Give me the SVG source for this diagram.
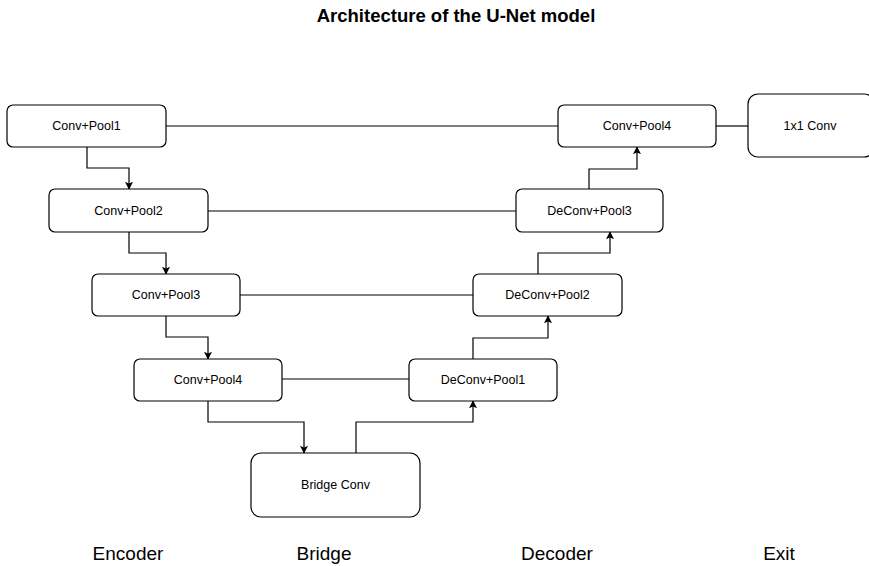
<svg xmlns="http://www.w3.org/2000/svg" width="869" height="566" viewBox="0 0 869 566">
<style>
.box{fill:#fff;stroke:#000;stroke-width:1.2}
.lbl{font-family:"Liberation Sans",Arial,sans-serif;font-size:12.5px;fill:#000;text-anchor:middle;dominant-baseline:central}
.cap{font-family:"Liberation Sans",Arial,sans-serif;font-size:19px;fill:#000;text-anchor:middle}
.ttl{font-family:"Liberation Sans",Arial,sans-serif;font-size:18.5px;font-weight:bold;fill:#000;text-anchor:middle}
.ln{fill:none;stroke:#000;stroke-width:1.2}
</style>
<defs>
<marker id="arr" viewBox="0 0 10 10" refX="9" refY="5" markerWidth="8" markerHeight="8" markerUnits="userSpaceOnUse" orient="auto">
<path d="M0,0 L10,5 L0,10 L2,5 Z" fill="#000"/>
</marker>
</defs>
<rect width="869" height="566" fill="#fff"/>
<text class="ttl" x="456" y="22">Architecture of the U-Net model</text>
<g id="connectors">
<path class="ln" d="M166,126 H558"/>
<path class="ln" d="M208,211 H516"/>
<path class="ln" d="M240,295 H473"/>
<path class="ln" d="M282,379 H409"/>
<path class="ln" d="M716,126 H748"/>
<path class="ln" marker-end="url(#arr)" d="M87,147 V168 H129 V189"/>
<path class="ln" marker-end="url(#arr)" d="M129,232 V253 H166 V274"/>
<path class="ln" marker-end="url(#arr)" d="M166,316 V337 H208 V359"/>
<path class="ln" marker-end="url(#arr)" d="M208,401 V422 H304 V453"/>
<path class="ln" marker-end="url(#arr)" d="M356,453 V422 H473 V401"/>
<path class="ln" marker-end="url(#arr)" d="M473,359 V338 H548 V316"/>
<path class="ln" marker-end="url(#arr)" d="M538,274 V253 H610 V232"/>
<path class="ln" marker-end="url(#arr)" d="M589,189 V169 H637 V147"/>
</g>
<g id="enc1"><rect class="box" x="7" y="105" width="159" height="42" rx="6"/><text class="lbl" x="86.5" y="126">Conv+Pool1</text></g>
<g id="enc2"><rect class="box" x="49" y="189" width="159" height="43" rx="6"/><text class="lbl" x="128.5" y="211">Conv+Pool2</text></g>
<g id="enc3"><rect class="box" x="92" y="274" width="148" height="42" rx="6"/><text class="lbl" x="166" y="295">Conv+Pool3</text></g>
<g id="enc4"><rect class="box" x="134" y="359" width="148" height="42" rx="6"/><text class="lbl" x="208" y="380">Conv+Pool4</text></g>
<g id="bridge"><rect class="box" x="251" y="453" width="169" height="64" rx="10"/><text class="lbl" x="335.5" y="485">Bridge Conv</text></g>
<g id="dec1"><rect class="box" x="409" y="359" width="148" height="42" rx="6"/><text class="lbl" x="483" y="380">DeConv+Pool1</text></g>
<g id="dec2"><rect class="box" x="473" y="274" width="149" height="42" rx="6"/><text class="lbl" x="547.5" y="295">DeConv+Pool2</text></g>
<g id="dec3"><rect class="box" x="516" y="189" width="147" height="43" rx="6"/><text class="lbl" x="589.5" y="211">DeConv+Pool3</text></g>
<g id="dec4"><rect class="box" x="558" y="105" width="158" height="42" rx="6"/><text class="lbl" x="637" y="126">Conv+Pool4</text></g>
<g id="exit"><rect class="box" x="748" y="94" width="126" height="63" rx="10"/><text class="lbl" x="810" y="126">1x1 Conv</text></g>
<g id="captions">
<text class="cap" x="128" y="560">Encoder</text>
<text class="cap" x="324" y="560">Bridge</text>
<text class="cap" x="557" y="560">Decoder</text>
<text class="cap" x="779" y="560">Exit</text>
</g>
</svg>
